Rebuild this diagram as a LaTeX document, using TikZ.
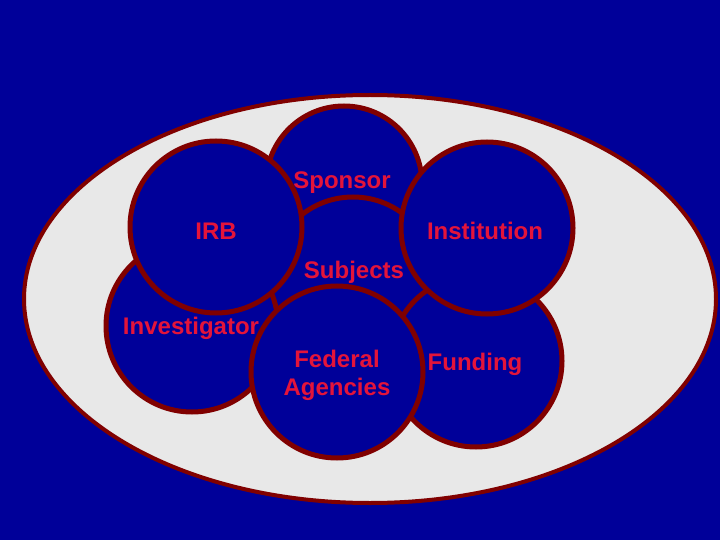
\documentclass[tikz,border=0pt]{standalone}
\usepackage{fontspec}
\setmainfont{Liberation Sans}
\definecolor{bgblue}{RGB}{0,0,153}
\definecolor{rimred}{RGB}{128,0,0}
\definecolor{txtred}{RGB}{228,20,58}
\definecolor{ovalgray}{RGB}{232,232,232}
\tikzset{
  disc/.style={circle, draw=rimred, line width=5pt, fill=bgblue, minimum size=172pt, inner sep=0pt},
  lbl/.style={text=txtred, font=\fontsize{24}{28}\selectfont\bfseries, align=center, inner sep=0pt}
}
\begin{document}
\begin{tikzpicture}[x=1pt,y=-1pt]
\fill[bgblue] (0,0) rectangle (720,540);
\useasboundingbox (0,0) rectangle (720,540);
\draw[rimred, fill=ovalgray, line width=4pt] (370,299) ellipse [x radius=346, y radius=204];
% discs, back to front
\node[disc, minimum size=156pt] (sponsor) at (344,184) {};
\node[disc, minimum size=166pt] (subjects) at (353,280) {};
\node[disc] (investigator) at (192,326) {};
\node[disc] (funding) at (476,361) {};
\node[disc] (irb) at (216,227) {};
\node[disc] (institution) at (487,228) {};
\node[disc] (federal) at (337,372) {};
% labels
\node[lbl] (tsponsor) at (342,183) {Sponsor};
\node[lbl] (tirb) at (216,231) {IRB};
\node[lbl] (tinst) at (485,231) {Institution};
\node[lbl] (tsubj) at (354,272) {Subjects};
\node[lbl] (tinv) at (191,328) {Investigator};
\node[lbl] (tfed) at (337,375) {Federal\\Agencies};
\node[lbl] (tfund) at (475,364) {Funding};
\end{tikzpicture}
\end{document}
